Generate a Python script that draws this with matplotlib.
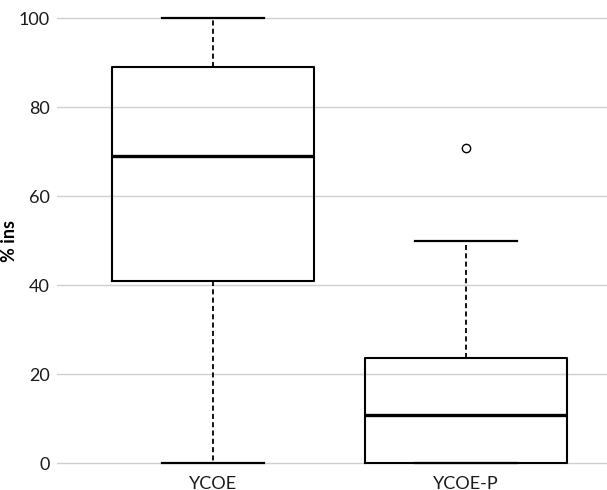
import matplotlib
matplotlib.use("Agg")
import matplotlib.pyplot as plt

plt.rcParams['font.family'] = ['Lato', 'DejaVu Sans']

categories = ["YCOE", "YCOE-P"]
medians = [69.0, 10.9]
q1 = [40.9, 0.0]
q3 = [89.0, 23.6]
whisker_low = [0.0, 0.0]
whisker_high = [100.0, 50.0]
outliers = [[], [70.8]]
y_ticks = [0, 20, 40, 60, 80, 100]

stats = []
for i, name in enumerate(categories):
    stats.append(dict(label=name, med=medians[i], q1=q1[i], q3=q3[i],
                      whislo=whisker_low[i], whishi=whisker_high[i],
                      fliers=outliers[i]))

fig = plt.figure(figsize=(6.07, 4.90), dpi=100)
ax = fig.add_axes([57 / 607, 0.0369, 1 - 57 / 607, 0.9445])

ax.bxp(stats, positions=[1, 2], widths=0.8, showfliers=True,
       boxprops=dict(color="black", linewidth=1.5),
       medianprops=dict(color="black", linewidth=2.4),
       whiskerprops=dict(color="black", linewidth=1.3, linestyle=(0, (2.8, 1.8))),
       capprops=dict(color="black", linewidth=1.6),
       capwidths=0.4,
       flierprops=dict(marker="o", markersize=6, markerfacecolor="white",
                       markeredgecolor="black", markeredgewidth=1.0))

ax.set_xlim(0.383, 2.557)
ax.set_ylim(-2, 102)
ax.set_yticks(y_ticks)
ax.set_xticks([1, 2])
ax.set_xticklabels(categories)
ax.yaxis.grid(True, color="#cfcfcf", linewidth=1.0)
ax.set_axisbelow(True)
for s in ax.spines.values():
    s.set_visible(False)
ax.tick_params(axis="both", length=0, labelsize=13, colors="#1a1a1a")
ax.tick_params(axis="y", pad=5)
ax.tick_params(axis="x", pad=3)
ax.set_ylabel("% ins", fontsize=13, fontweight="bold")
ax.yaxis.set_label_coords(-0.071, 0.5)

fig.savefig("out.png", dpi=100)
